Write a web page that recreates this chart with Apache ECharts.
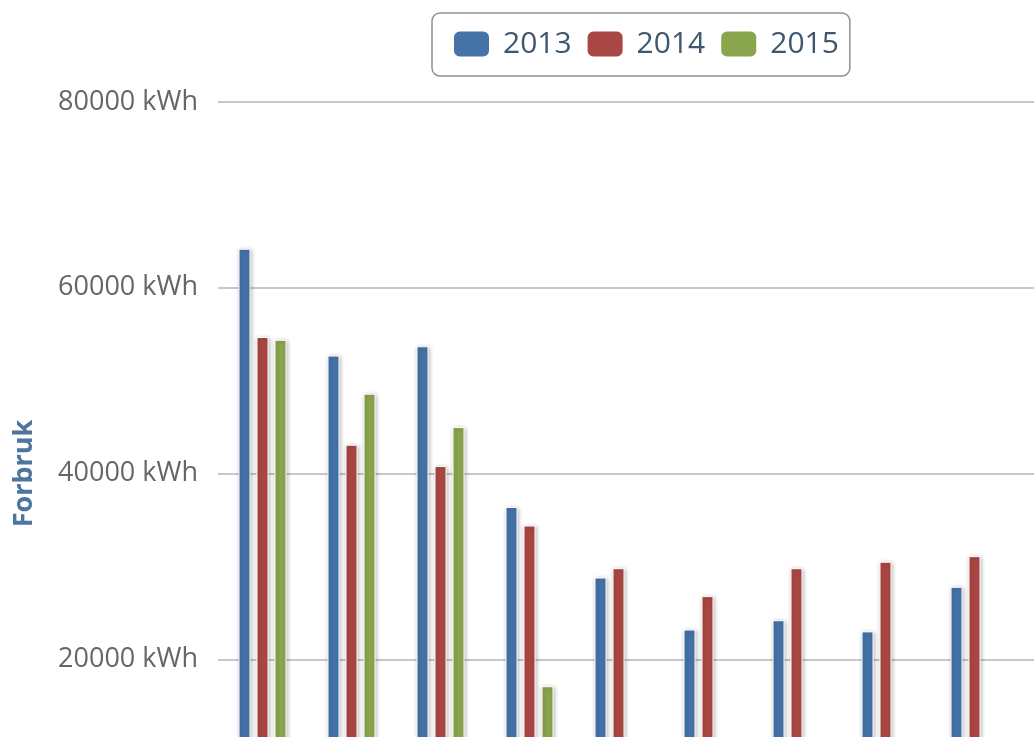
<!DOCTYPE html>
<html>
<head>
<meta charset="utf-8">
<script src="https://cdn.jsdelivr.net/npm/echarts@6/dist/echarts.min.js"></script>
<style>html,body{margin:0;padding:0;background:#fff;}#c{width:1034px;height:737px;}</style>
</head>
<body>
<div id="c"></div>
<script>
const months = ['Jan','Feb','Mar','Apr','Mai','Jun','Jul','Aug','Sep','Okt','Nov','Des'];
const seriesNames = ['2013','2014','2015'];
const v2013 = [64200, 52700, 53700, 36400, 28800, 23200, 24200, 23000, 27800, null, null, null];
const v2014 = [54700, 43100, 40800, 34400, 29800, 26800, 29800, 30500, 31100, null, null, null];
const v2015 = [54400, 48600, 45000, 17100, null, null, null, null, null, null, null, null];
const colors = ['#4572A7', '#AA4643', '#89A54E'];
const yTicks = {min: 0, max: 80000, interval: 20000};

const FONT = 'Open Sans';
const chart = echarts.init(document.getElementById('c'), null, {renderer: 'canvas'});
const mkSeries = (name, data, color) => ({
  name, type: 'bar', data,
  barWidth: 12, barGap: '50%',
  itemStyle: {
    color, borderColor: '#fff', borderWidth: 1,
    shadowColor: 'rgba(0,0,0,0.28)', shadowBlur: 4, shadowOffsetX: 1, shadowOffsetY: 1
  },
  animation: false
});
chart.setOption({
  animation: false,
  backgroundColor: '#fff',
  legend: {
    left: 432, top: 13,
    padding: [16, 11, 17, 20],
    borderColor: '#909090', borderWidth: 1.5, borderRadius: 8,
    itemWidth: 37, itemHeight: 27, itemGap: 14,
    icon: 'roundRect',
    textStyle: {fontFamily: FONT, fontSize: 30, color: '#3e576f', padding: [0, 0, 0, 8]},
    data: seriesNames
  },
  grid: {left: 218, top: 102, width: 1068, height: 743, containLabel: false, outerBoundsMode: 'none'},
  xAxis: {
    type: 'category', data: months,
    axisLine: {show: false}, axisTick: {show: false}, axisLabel: {show: false},
    splitLine: {show: false}
  },
  yAxis: {
    type: 'value', min: yTicks.min, max: yTicks.max, interval: yTicks.interval,
    name: 'Forbruk', nameLocation: 'middle', nameRotate: 90, nameGap: 180,
    nameTextStyle: {fontFamily: FONT, fontSize: 27, fontWeight: 'bold', color: '#4d759e'},
    axisLine: {show: false}, axisTick: {show: false},
    axisLabel: {formatter: v => v + ' kWh', margin: 20, fontFamily: FONT, fontSize: 27, color: '#666'},
    splitLine: {lineStyle: {color: '#c8c8c8', width: 2}}
  },
  series: [
    mkSeries(seriesNames[0], v2013, colors[0]),
    mkSeries(seriesNames[1], v2014, colors[1]),
    mkSeries(seriesNames[2], v2015, colors[2])
  ]
});
</script>
</body>
</html>
